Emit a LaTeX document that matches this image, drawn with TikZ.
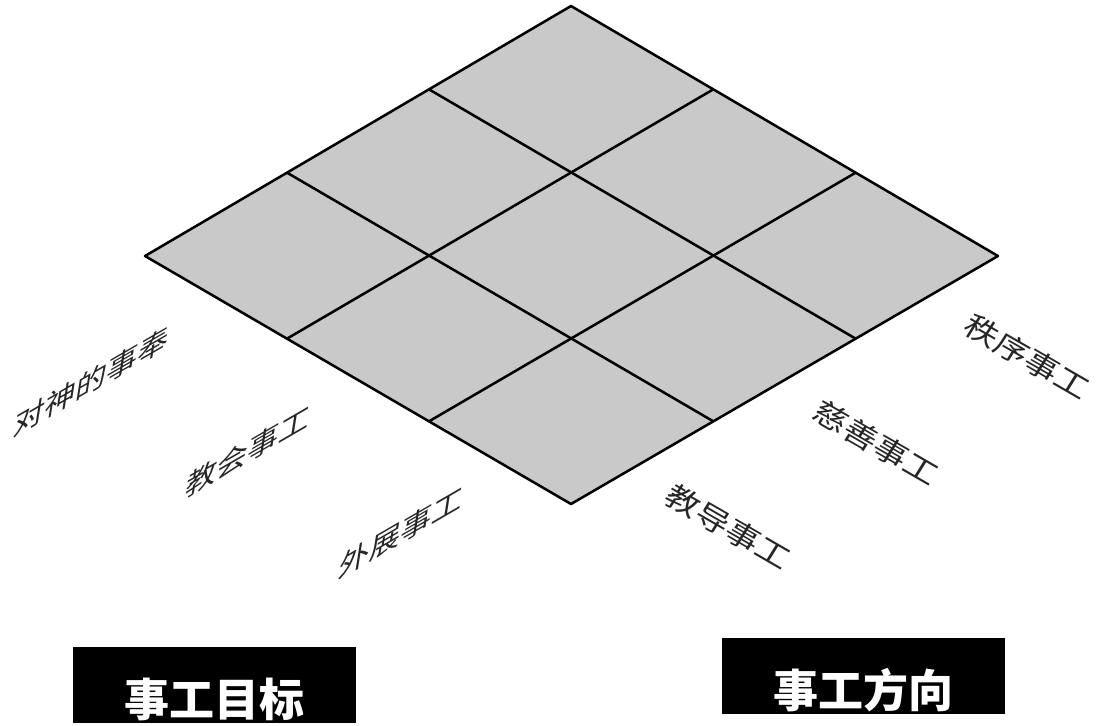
\documentclass[tikz,border=0pt]{standalone}
\usepackage{fontspec}
\setmainfont{Noto Sans CJK SC}
\usetikzlibrary{calc}
\begin{document}
\begin{tikzpicture}[
    x=0.025cm, y=-0.025cm,
    grid/.style={line width=1.8pt, line join=round},
    leftlabel/.style={font=\fontsize{22}{22}\selectfont, text=black!85, inner sep=0pt, cm={1,0.58,0.15,0.95,(0,0)}},
    rightlabel/.style={font=\fontsize{22}{22}\selectfont, text=black!85, inner sep=0pt, cm={0.97,-0.56,0.5,0.8,(0,0)}},
    titlebox/.style={fill=black, text=white, font=\bfseries\fontsize{32}{32}\selectfont, anchor=north,
        minimum width=7.075cm, inner sep=0pt, text height=1.725cm, text depth=0.175cm},
]
    \useasboundingbox (0,0) rectangle (1102,725);

    % Corners of the plane
    \coordinate (L) at (145,256);
    \coordinate (T) at (571,6);
    \coordinate (R) at (998,256);
    \coordinate (B) at (571,504);

    % Grid
    \filldraw[grid, fill=black!21] (L) -- (T) -- (R) -- (B) -- cycle;
    \draw[grid] ($(L)!1/3!(B)$) -- ($(T)!1/3!(R)$);
    \draw[grid] ($(L)!2/3!(B)$) -- ($(T)!2/3!(R)$);
    \draw[grid] ($(L)!1/3!(T)$) -- ($(B)!1/3!(R)$);
    \draw[grid] ($(L)!2/3!(T)$) -- ($(B)!2/3!(R)$);

    % Left labels
    \node[leftlabel] (worship) at (92,381) {对神的事奉};
    \node[leftlabel] (church) at (248,451) {教会事工};
    \node[leftlabel] (outreach) at (401,532) {外展事工};

    % Right labels
    \node[rightlabel] (order) at (1027,357) {秩序事工};
    \node[rightlabel] (charity) at (876,443) {慈善事工};
    \node[rightlabel] (teaching) at (728,527) {教导事工};

    % Titles
    \node[titlebox] (goal) at (214.5,647) {事工目标};
    \node[titlebox] (direction) at (863.5,638) {事工方向};
\end{tikzpicture}
\end{document}
